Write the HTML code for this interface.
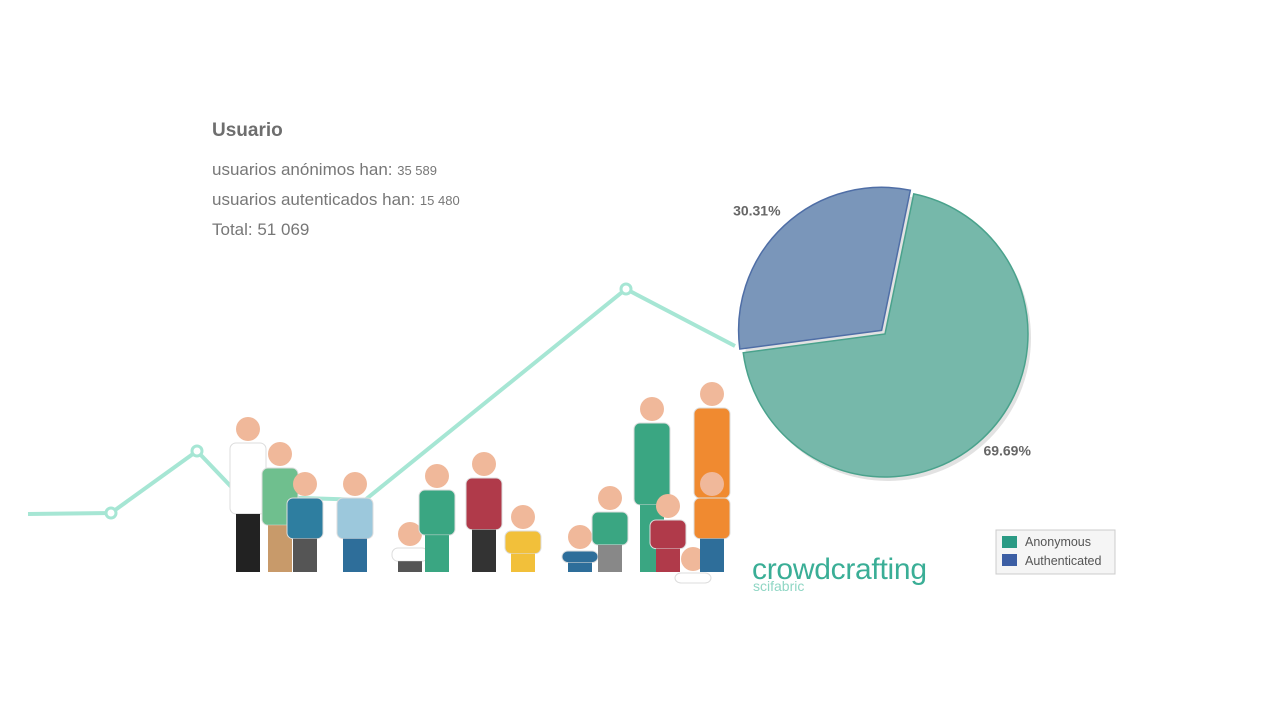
<!DOCTYPE html>
<html><head><meta charset="utf-8"><style>
body{margin:0;background:#fff;width:1280px;height:720px;overflow:hidden;font-family:"Liberation Sans",sans-serif}
#info{position:absolute;left:212px;top:120px;color:#777}
#info h3{margin:0 0 13px;font-size:19px;font-weight:bold;color:#6e6e6e}
#info div{font-size:17px;line-height:29px}
#info small{font-size:13px}
</style></head><body>
<svg id="scene" width="1280" height="720" style="position:absolute;left:0;top:0">
<polyline points="28,514 111,513 197,451 240,496 365,500 626,289 735,346" fill="none" stroke="#a6e6d4" stroke-width="4"/>
<circle cx="111" cy="513" r="5" fill="#fff" stroke="#a6e6d4" stroke-width="3"/>
<circle cx="197" cy="451" r="5" fill="#fff" stroke="#a6e6d4" stroke-width="3"/>
<circle cx="626" cy="289" r="5" fill="#fff" stroke="#a6e6d4" stroke-width="3"/>
<g id="people"></g>
<g id="pie"></g>
<text x="752" y="579" font-size="30" fill="#3aae96" font-family="Liberation Sans" letter-spacing="-1" textLength="174">crowdcrafting</text>
<text x="753" y="591" font-size="14" fill="#8fd6c4" font-family="Liberation Sans">scifabric</text>
<g>
<rect x="996" y="530" width="119" height="44" fill="#f5f5f5" stroke="#ccc"/>
<rect x="1002" y="536" width="15" height="12" fill="#2a9a84"/>
<text x="1025" y="546" font-size="12.5" fill="#555">Anonymous</text>
<rect x="1002" y="554" width="15" height="12" fill="#3c5ea4"/>
<text x="1025" y="565" font-size="12.5" fill="#555">Authenticated</text>
</g>
</svg>
<div id="info">
<h3>Usuario</h3>
<div>usuarios anónimos han: <small>35 589</small></div>
<div>usuarios autenticados han: <small>15 480</small></div>
<div>Total: 51 069</div>
</div>
<script>
const categories=["Anonymous","Authenticated"];
const values=[35589,15480];
const labels=["69.69%","30.31%"];
const NS="http://www.w3.org/2000/svg";
const pie=document.getElementById('pie');
const cx=885,cy=334,r=143,start=11.6;
const total=values.reduce((a,b)=>a+b,0);
const fills=["#76b8aa","#7a96ba"],strokes=["#4aa28c","#4f6ea6"];
const labelShift=[[-14,-4],[8,-3]];
function pt(a,rr,ox,oy){const t=(a-90)*Math.PI/180;return [ox+rr*Math.cos(t),oy+rr*Math.sin(t)];}
const sh=document.createElementNS(NS,'circle');sh.setAttribute('cx',cx+3);sh.setAttribute('cy',cy+4);sh.setAttribute('r',r);sh.setAttribute('fill','#e2e2e2');pie.appendChild(sh);
let a0=start;
values.forEach((v,i)=>{
  const sw=v/total*360;
  const a1=a0+sw, mid=a0+sw/2;
  const off=i===1?5:0;
  const [ox,oy]=pt(mid,off,cx,cy);
  const p0=pt(a0,r,ox,oy),p1=pt(a1,r,ox,oy);
  const path=document.createElementNS(NS,'path');
  path.setAttribute('d',`M${ox},${oy}L${p0[0]},${p0[1]}A${r},${r} 0 ${sw>180?1:0} 1 ${p1[0]},${p1[1]}Z`);
  path.setAttribute('fill',fills[i]);path.setAttribute('stroke',strokes[i]);path.setAttribute('stroke-width','1.5');
  
  
  pie.appendChild(path);
  const lp=pt(mid,r+22,cx,cy);
  const t=document.createElementNS(NS,'text');
  const an=mid%360;
  t.setAttribute('x',lp[0]+labelShift[i][0]);t.setAttribute('y',lp[1]+5+labelShift[i][1]);
  t.setAttribute('text-anchor',an>180?'end':'start');
  t.setAttribute('font-size','14');t.setAttribute('font-weight','bold');t.setAttribute('fill','#666');
  t.textContent=labels[i];
  
  
  pie.appendChild(t);
  a0=a1;
});
const ppl=[[248,415,"#fff","#222"],[280,440,"#6fbf8e","#c89a6a"],[305,470,"#2e7ea0","#555"],[355,470,"#9cc8dc","#2e6e9a"],[410,520,"#fff","#555"],[437,462,"#3aa682","#3aa682"],[484,450,"#b03a4a","#333"],[523,503,"#f2c03a","#f2c03a"],[580,523,"#2e6e9a","#2e6e9a"],[610,484,"#3aa682","#888"],[652,395,"#3aa682","#3aa682"],[668,492,"#b03a4a","#b03a4a"],[693,545,"#fff","#fff"],[712,380,"#f08a30","#222"],[712,470,"#f08a30","#2e6e9a"]];
const pg=document.getElementById('people');
ppl.forEach(([x,y,c,l])=>{
  const h=document.createElementNS(NS,'circle');h.setAttribute('cx',x);h.setAttribute('cy',y+14);h.setAttribute('r',12);h.setAttribute('fill','#f0b89a');pg.appendChild(h);
  const bh=Math.max(10,(572-y-28)*0.55);
  const b=document.createElementNS(NS,'rect');b.setAttribute('x',x-18);b.setAttribute('y',y+28);b.setAttribute('width',36);b.setAttribute('height',bh);b.setAttribute('rx',6);b.setAttribute('fill',c);b.setAttribute('stroke','#ddd');pg.appendChild(b);
  const lg=document.createElementNS(NS,'rect');lg.setAttribute('x',x-12);lg.setAttribute('y',y+28+bh);lg.setAttribute('width',24);lg.setAttribute('height',Math.max(0,572-(y+28+bh)));lg.setAttribute('fill',l);pg.appendChild(lg);
});
</script>
</body></html>
